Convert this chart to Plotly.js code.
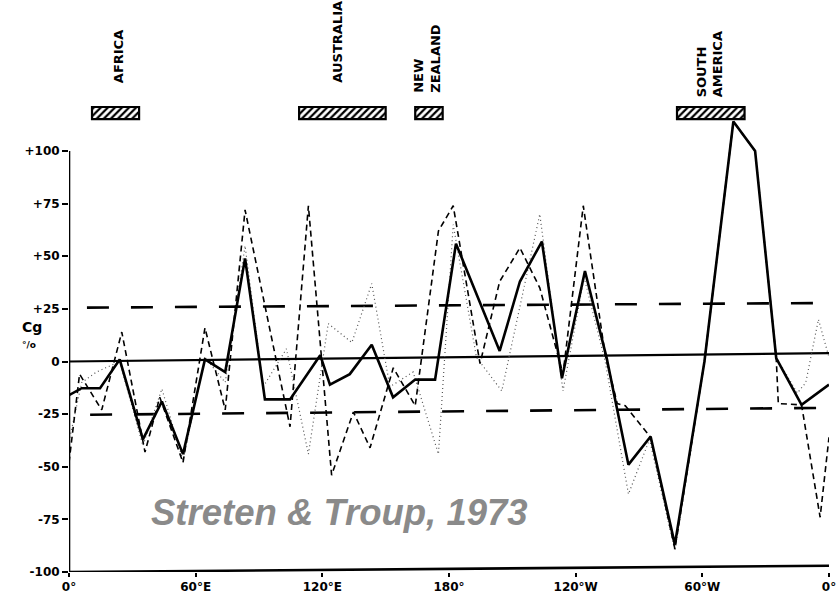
<!DOCTYPE html>
<html>
<head>
<meta charset="utf-8">
<script src="https://cdn.plot.ly/plotly-3.0.1.min.js"></script>
<style>html,body{margin:0;padding:0;background:#fff;}#chart{width:839px;height:594px;}</style>
</head>
<body>
<div id="chart"></div>
<script>
// ---- data (longitude in degrees east, 0..360; Cg in %) ----
const solidLon = [0, 6, 14.7, 24, 35, 44, 54, 64.4, 74, 83.4, 92.8, 104.7, 119, 123.6, 133, 143.4, 153.5, 164, 173.4, 183.3, 204, 213.6, 224, 233.5, 244.4, 254.7, 265, 275.5, 287, 301, 314.7, 325, 335, 347, 360];
const solidCg  = [-16, -12.7, -12.7, 1, -37, -19, -44, 1, -5, 49, -18, -18, 3, -11, -6, 8, -17, -8.6, -8.6, 56, 5, 38, 57, -8, 43, 1.6, -49, -35.6, -87, 0, 114, 100, 1.6, -20.6, -11];

const dashLon = [0, 5, 15.5, 25, 36, 43, 54, 64.4, 74, 83.4, 104.7, 113.4, 124.4, 134.7, 142.6, 153.6, 164, 175, 182, 194.7, 204, 213.6, 223, 234, 243.6, 254, 259.7, 263.5, 275.5, 287, 301, 314.7, 325, 335, 336, 347, 355.8, 360];
const dashCg  = [-48, -6, -23, 14, -43, -17, -48, 16, -23, 72, -31, 74, -54, -24, -41, -3, -21, 62, 74, -1, 38, 54, 35, -6, 74, 3, -20, -21, -36, -89, 0, 114, 100, 1.6, -20, -20.6, -74, -36];

const dotLon = [0, 6, 13, 24, 35, 44, 54, 64.4, 74, 83.4, 92, 103, 113.4, 122.8, 134, 143.4, 152, 163, 175, 182, 193, 205, 223, 234, 244, 254, 265, 275, 287, 301, 314.7, 325, 335, 345, 349, 355, 360];
const dotCg  = [-38, -10, -5, 0, -40, -13, -47, 2, -10, 55, -12, 6, -44, 18, 9, 37, -12, -5, -44, 65, 2, -14, 70, -14, 40, 0, -63, -37, -90, 0, 114, 100, 2, -15, -10, 20, 2];

// significance and zero reference lines (as drawn on the scanned original)
const upperLon = [8.5, 360], upperCg = [25.6, 27.8];
const lowerLon = [10, 360],  lowerCg = [-25.3, -22];
const zeroLon  = [0, 360],   zeroCg  = [0, 4];

// land masses along the top
const regionNames = ['AFRICA', 'AUSTRALIA', 'NEW<br>ZEALAND', 'SOUTH<br>AMERICA'];
const regionStart = [10.9, 109, 164, 288];
const regionEnd   = [33.2, 150, 177, 320];

// axis ticks
const xTickVals = [0, 60, 120, 180, 240, 300, 360];
const xTickText = ['0°', '60°E', '120°E', '180°', '120°W', '60°W', '0°'];
const yTickVals = [-100, -75, -50, -25, 0, 25, 50, 75, 100];
const yTickText = ['-100', '-75', '-50', '-25', '0', '+25', '+50', '+75', '+100'];

// ---- drawing ----
const ink = '#000000';
const traces = [
  {x: upperLon, y: upperCg, mode: 'lines', line: {color: ink, width: 2.6, dash: '22px,22px'}, hoverinfo: 'skip'},
  {x: lowerLon, y: lowerCg, mode: 'lines', line: {color: ink, width: 2.6, dash: '22px,22px'}, hoverinfo: 'skip'},
  {x: zeroLon, y: zeroCg, mode: 'lines', line: {color: ink, width: 2.2}, hoverinfo: 'skip'},
  {x: dotLon, y: dotCg, mode: 'lines', line: {color: '#555', width: 1.2, dash: '1px,3px'}},
  {x: dashLon, y: dashCg, mode: 'lines', line: {color: ink, width: 1.6, dash: '6px,4px'}},
  {x: solidLon, y: solidCg, mode: 'lines', line: {color: ink, width: 2.6}},
  {
    type: 'bar', orientation: 'h',
    base: regionStart,
    x: regionStart.map((s, i) => regionEnd[i] - s),
    y: regionStart.map(() => 118),
    width: regionStart.map(() => 5.8),
    marker: {color: 'white', line: {color: ink, width: 2.2},
             pattern: {shape: '/', fgcolor: ink, bgcolor: 'white', size: 5, solidity: 0.45}},
    hoverinfo: 'skip'
  }
];

const labelX = [23.2, 127.4, 169.6, 303.6];
const labelY = [131.5, 131.5, 126.5, 124.5];
const annotations = regionNames.map((n, i) => ({
  text: n, x: labelX[i], y: labelY[i], xref: 'x', yref: 'y',
  textangle: -90, xanchor: 'center', yanchor: 'bottom', align: 'left', showarrow: false,
  font: {family: 'DejaVu Sans', size: 13, weight: 'bold', color: ink}
}));
annotations.push(
  {text: 'Cg', x: -0.0645, y: 16.6, xref: 'paper', yref: 'y', showarrow: false,
   font: {family: 'DejaVu Sans', size: 14, weight: 'bold', color: ink}},
  {text: '°/o', x: -0.0645, y: 8.0, xref: 'paper', yref: 'y', showarrow: false,
   font: {family: 'DejaVu Sans', size: 9, weight: 'bold', color: ink}},
  {text: 'Streten & Troup, 1973', x: 128.2, y: -71.5, xref: 'x', yref: 'y',
   xanchor: 'center', yanchor: 'middle', showarrow: false,
   font: {family: 'Liberation Sans', size: 36.5, weight: 'bold', style: 'italic', color: '#8a8a8a'}}
);

const layout = {
  width: 839, height: 594,
  margin: {l: 69, r: 10, t: 5, b: 22},
  paper_bgcolor: 'white', plot_bgcolor: 'white',
  showlegend: false,
  bargap: 0,
  xaxis: {
    range: [0, 360], tickvals: xTickVals, ticktext: xTickText,
    showgrid: false, zeroline: false, showline: false,
    ticks: 'outside', ticklen: 4, tickwidth: 2, tickcolor: ink,
    tickfont: {family: 'DejaVu Sans', size: 12, weight: 'bold', color: ink}
  },
  yaxis: {
    range: [-100, -100 + 567 / 2.105], tickvals: yTickVals, ticktext: yTickText,
    showgrid: false, zeroline: false, showline: false,
    ticks: 'outside', ticklen: 6, tickwidth: 2, tickcolor: ink,
    tickfont: {family: 'DejaVu Sans', size: 12, weight: 'bold', color: ink}
  },
  shapes: [
    {type: 'line', xref: 'x', yref: 'y', x0: 0, x1: 0,
     y0: yTickVals[0], y1: yTickVals[yTickVals.length - 1], line: {color: ink, width: 2.6}},
    {type: 'line', xref: 'x', yref: 'y', x0: xTickVals[0], x1: xTickVals[xTickVals.length - 1],
     y0: yTickVals[0], y1: yTickVals[0] + 3, line: {color: ink, width: 2.6}}
  ],
  annotations: annotations
};

Plotly.newPlot('chart', traces, layout, {staticPlot: true, displayModeBar: false});
</script>
</body>
</html>
